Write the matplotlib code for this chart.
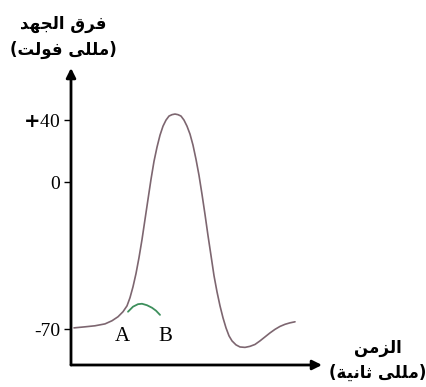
import numpy as np
import matplotlib
matplotlib.use("Agg")
import matplotlib.pyplot as plt

# Data (time in arbitrary ms units, potential in mV)
time_ms = [0.12, 0.56, 0.96, 1.36, 1.64, 1.88, 2.08, 2.24, 2.36, 2.48,
           2.60, 2.72, 2.84, 2.96, 3.08, 3.20, 3.32, 3.44, 3.56, 3.68,
           3.80, 3.92, 4.04, 4.16, 4.28, 4.40, 4.52, 4.64, 4.76, 4.88,
           5.00, 5.12, 5.24, 5.36, 5.48, 5.60, 5.72, 5.84, 5.96, 6.08,
           6.20, 6.32, 6.44, 6.60, 6.76, 6.96, 7.16, 7.36, 7.56, 7.76,
           7.96, 8.16, 8.36, 8.56, 8.76, 8.96]
potential_mv = [-69.4, -68.9, -68.4, -67.5, -66.0, -64.1, -61.7, -58.9, -55.0, -49.8,
                -43.5, -35.9, -27.3, -17.7, -8.1, 1.9, 13.5, 22.6, 30.3, 36.1,
                40.0, 42.6, 43.5, 43.9, 43.5, 42.6, 40.0, 36.1, 31.0, 23.9,
                14.8, 4.5, -5.7, -15.3, -25.4, -34.9, -44.5, -52.2, -58.9, -64.6,
                -69.4, -73.2, -75.6, -77.5, -78.5, -78.7, -78.2, -77.3, -75.6, -73.7,
                -71.8, -70.1, -68.7, -67.7, -67.0, -66.5]
sub_time = [2.28, 2.48, 2.68, 2.84, 3.04, 3.24, 3.40, 3.56]
sub_potential = [-61.7, -59.3, -58.1, -57.9, -58.6, -59.8, -61.2, -63.2]
ytick_values = [40, 0, -70]
ytick_labels = ["+40", "0", "-70"]
point_labels = ["A", "B"]
point_times = [2.04, 3.76]
point_level = -73.7

# Arabic labels (presentation forms, visual order)
ylab1 = "\uFEAA\uFEEC\uFEA0\uFEDF\uFE8D \uFED5\uFEAE\uFED3"          # فرق الجهد
ylab2 = "(\uFE96\uFEDF\uFEEE\uFED3 \uFEF0\uFEE0\uFEE0\uFEE3)"         # (مللى فولت)
xlab1 = "\uFEE6\uFEE3\uFEB0\uFEDF\uFE8D"                              # الزمن
xlab2 = "(\uFE94\uFEF4\uFEE7\uFE8E\uFE9B \uFEF0\uFEE0\uFEE0\uFEE3)"   # (مللى ثانية)

W, H = 427, 387
fig = plt.figure(figsize=(W/100, H/100), dpi=100)
ax = fig.add_axes([71/W, 22/H, 251/W, 297/H])

def fwd(v):
    v = np.asarray(v, dtype=float)
    return np.where(v >= 0, v*1.55, v*2.09)

def inv(u):
    u = np.asarray(u, dtype=float)
    return np.where(u >= 0, u/1.55, u/2.09)

ax.set_yscale('function', functions=(fwd, inv))
ax.set_xlim(0, 251/25)
ax.set_ylim(-87.1, 73.5)

ax.plot(time_ms, potential_mv, color='#7d6670', lw=1.2, solid_capstyle='round',
        solid_joinstyle='round')
ax.plot(sub_time, sub_potential, color='#3d8f5c', lw=1.3, solid_capstyle='round')

for sp in ax.spines.values():
    sp.set_visible(False)
ax.annotate('', xy=(0, 1.0), xytext=(0, 0), xycoords='axes fraction',
            arrowprops=dict(arrowstyle='-|>', lw=2, color='black', mutation_scale=14,
                            shrinkA=0, shrinkB=0))
ax.annotate('', xy=(1.0, 0), xytext=(0, 0), xycoords='axes fraction',
            arrowprops=dict(arrowstyle='-|>', lw=2, color='black', mutation_scale=14,
                            shrinkA=0, shrinkB=0))

ax.set_xticks([])
ax.set_yticks(ytick_values)
shown = [lab.replace("+", r"$\mathbf{+}$") for lab in ytick_labels]
ax.set_yticklabels(shown, fontfamily='Liberation Serif', fontsize=14)
ax.tick_params(axis='y', length=5, width=1, pad=3, color='black')

for lab, t in zip(point_labels, point_times):
    ax.text(t, point_level, lab, fontfamily='Liberation Serif', fontsize=15,
            ha='center', va='center')

fig.text(63/W, 1 - 24/H, ylab1, fontfamily='DejaVu Sans', fontweight='bold',
         fontsize=12, ha='center', va='center')
fig.text(63/W, 1 - 50/H, ylab2, fontfamily='DejaVu Sans', fontweight='bold',
         fontsize=12, ha='center', va='center')
fig.text(378/W, 1 - 348/H, xlab1, fontfamily='DejaVu Sans', fontweight='bold',
         fontsize=12, ha='center', va='center')
fig.text(378/W, 1 - 373/H, xlab2, fontfamily='DejaVu Sans', fontweight='bold',
         fontsize=12, ha='center', va='center')

fig.savefig('out.png', dpi=100)
